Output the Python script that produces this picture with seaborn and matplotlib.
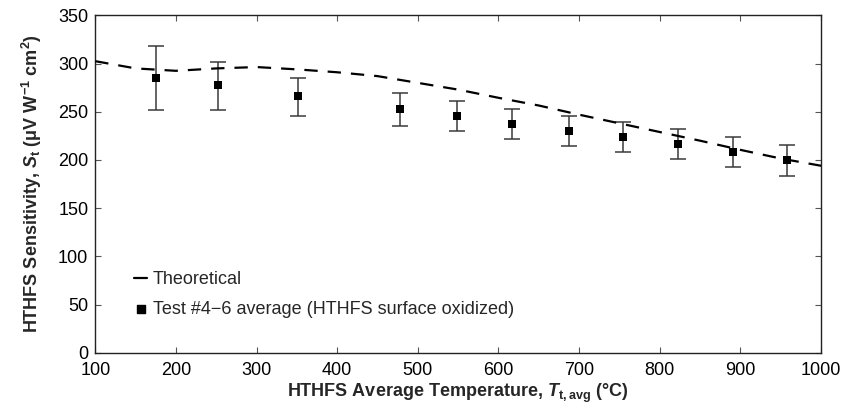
import matplotlib
matplotlib.use("Agg")
import matplotlib.pyplot as plt
import seaborn as sns
import pandas as pd
import numpy as np

# Theoretical curve
theory_x = [100, 150, 200, 250, 300, 350, 400, 450, 500, 550, 600, 650, 700, 750, 800, 850, 900, 950, 1000]
theory_y = [302.5, 295, 292.5, 295, 296.4, 294, 291, 287, 280, 273, 264.5, 256.5, 247, 238, 229, 220, 210.5, 201.5, 194]

# Test #4-6 average points with error bars
test_x = [175, 252, 351, 478, 548, 617, 688, 755, 823, 891, 958]
test_y = [285.3, 277.4, 266, 252.5, 245.5, 237, 229.7, 223.4, 216.5, 208.2, 199.9]
err_hi = [318.5, 301.9, 285.3, 269, 261.4, 252.8, 245.2, 239.6, 231.7, 223.4, 215.1]
err_lo = [251.8, 251.8, 245.9, 234.9, 229.7, 222, 214.7, 208.5, 201.2, 193, 183.6]

x_ticks = [100, 200, 300, 400, 500, 600, 700, 800, 900, 1000]
y_ticks = [0, 50, 100, 150, 200, 250, 300, 350]

sns.set_theme(style="ticks")
plt.rcParams["font.family"] = ["Liberation Sans", "DejaVu Sans"]
plt.rcParams["mathtext.fontset"] = "custom"
plt.rcParams["mathtext.rm"] = "Liberation Sans"
plt.rcParams["mathtext.it"] = "Liberation Sans:italic"
plt.rcParams["mathtext.bf"] = "Liberation Sans:bold"
plt.rcParams["mathtext.bfit"] = "Liberation Sans:italic:bold"

fig = plt.figure(figsize=(8.43, 4.16), dpi=100)
ax = fig.add_axes([0.113, 0.152, 0.861, 0.811])

df_t = pd.DataFrame({"x": theory_x, "y": theory_y})
df_p = pd.DataFrame({"x": test_x, "y": test_y,
                     "lo": np.array(test_y) - np.array(err_lo),
                     "hi": np.array(err_hi) - np.array(test_y)})

ax.errorbar(df_p["x"], df_p["y"], yerr=[df_p["lo"], df_p["hi"]], fmt="none",
            ecolor="#3a3a3a", elinewidth=1.1, capsize=5.5, capthick=1.1, zorder=2)
sns.lineplot(data=df_t, x="x", y="y", ax=ax, color="black", lw=1.6,
             linestyle=(0, (6, 4.5)), label="Theoretical", zorder=3)
sns.scatterplot(data=df_p, x="x", y="y", ax=ax, marker="s", s=30, color="black",
                edgecolor="black", linewidth=0, label="Test #4\u22126 average (HTHFS surface oxidized)", zorder=4)

ax.set_xlim(100, 1000)
ax.set_ylim(0, 350)
ax.set_xticks(x_ticks)
ax.set_yticks(y_ticks)
ax.tick_params(direction="in", length=4.5, width=0.8, top=True, right=True,
               labelsize=13, colors="#555555", labelcolor="black")
ax.tick_params(axis="x", pad=7)
ax.tick_params(axis="y", pad=5)
for s in ax.spines.values():
    s.set_linewidth(1.0)
    s.set_color("#222222")

ax.set_xlabel(r"HTHFS Average Temperature, $\mathbfit{T}_{\mathbf{t,avg}}$ (°C)",
              fontsize=13, fontweight="bold", labelpad=2)
ax.set_ylabel(r"HTHFS Sensitivity, $\mathbfit{S}_{\mathbf{t}}$ (μV W$^{\mathbf{-1}}$ cm$^{\mathbf{2}}$)",
              fontsize=13, fontweight="bold", labelpad=10)

leg = ax.legend(loc="lower left", bbox_to_anchor=(0.054, 0.104), frameon=False,
                fontsize=13, handlelength=0.7, handletextpad=0.3, labelspacing=0.68,
                borderpad=0, borderaxespad=0, markerscale=1.0)
for h in leg.legend_handles:
    try:
        h.set_linestyle("-")
    except Exception:
        pass

fig.savefig("out.png", dpi=100)
